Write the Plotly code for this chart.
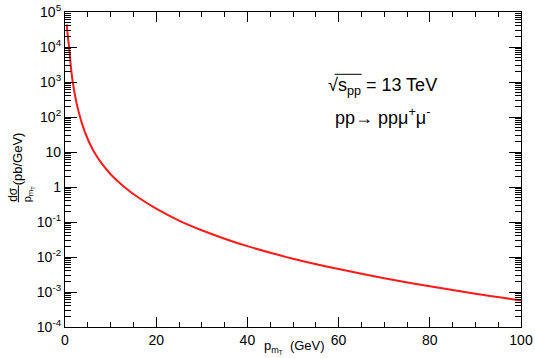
import plotly.graph_objects as go

# ---- data ----
pt = [0.4, 0.6, 0.9, 1.3, 1.7, 2.5, 3.3, 4.0, 5.0, 6.2, 8.0, 10.0, 13.0, 16.0, 20.0, 25.0,
      30.0, 35.0, 40.0, 50.0, 60.0, 70.0, 80.0, 90.0, 100.0]
xsec = [4.4e4, 2.1e4, 1.0e4, 2.66e3, 1.0e3, 2.62e2, 1.0e2, 50.5, 23.1, 11.1, 4.79, 2.32, 1.00,
        0.509, 0.241, 0.110, 0.058, 0.0333, 0.0204, 0.00894, 0.00451, 0.00247, 0.00145,
        0.000893, 0.000573]

y_tickvals = [1e-4, 1e-3, 1e-2, 1e-1, 1, 10, 1e2, 1e3, 1e4, 1e5]
y_ticktext = ["10<sup>-4</sup>", "10<sup>-3</sup>", "10<sup>-2</sup>", "10<sup>-1</sup>", "1", "10",
              "10<sup>2</sup>", "10<sup>3</sup>", "10<sup>4</sup>", "10<sup>5</sup>"]
x_tickvals = [0, 20, 40, 60, 80, 100]

FONT = "Liberation Sans, Arial, sans-serif"
W, H = 535, 358
X0, X1, Y0, Y1 = 65, 521.5, 11.7, 326.7  # plot area in window pixels


def px(x):
    return (x - X0) / (X1 - X0)


def py(y):
    return (Y1 - y) / (Y1 - Y0)


minor_y = [k * 10.0 ** n for n in range(-4, 5) for k in range(2, 10)]

fig = go.Figure()
fig.add_trace(go.Scatter(x=pt, y=xsec, mode="lines", line=dict(color="#ff1a1a", width=2, shape="spline"),
                         showlegend=False, hoverinfo="skip"))

fig.update_layout(
    width=W, height=H,
    margin=dict(l=X0, r=W - X1, t=Y0, b=H - Y1, pad=0, autoexpand=False),
    paper_bgcolor="white", plot_bgcolor="white",
    font=dict(family=FONT, size=14, color="black"),
    showlegend=False,
)
fig.update_xaxes(
    range=[0, 100], tickmode="array", tickvals=x_tickvals, ticks="inside", ticklen=10,
    tickwidth=1, tickcolor="black", showline=True, linecolor="black", linewidth=1.2,
    mirror="ticks", showgrid=False, zeroline=False, tickfont=dict(size=14), automargin=False,
    minor=dict(ticks="inside", ticklen=5, dtick=5, tick0=0, tickcolor="black", showgrid=False),
)
fig.update_yaxes(
    type="log", range=[-4, 5], tickmode="array", tickvals=y_tickvals, ticktext=y_ticktext,
    ticks="inside", ticklen=12, tickwidth=1, tickcolor="black", showline=True, linecolor="black",
    linewidth=1.2, mirror="ticks", showgrid=False, zeroline=False, tickfont=dict(size=14),
    automargin=False,
    minor=dict(ticks="inside", ticklen=6, tickmode="array", tickvals=minor_y, tickcolor="black",
               showgrid=False),
)


def note(x, y, text, size, angle=0):
    return dict(x=px(x), y=py(y), xref="paper", yref="paper", showarrow=False, textangle=angle,
                xanchor="center", yanchor="middle", text=text, font=dict(size=size))


ann = [
    note(295, 347, "p<sub>m<sub>T</sub></sub>  (GeV)", 13),
    note(13.5, 194, "dσ", 12, -90),
    note(28, 194, "p<sub>m<sub>T</sub></sub>", 11, -90),
    note(17.5, 158.5, "(pb/GeV)", 13, -90),
    note(383, 86, "√s<sub>pp</sub> = 13 TeV", 18),
    note(383, 116, "pp→ ppμ<sup>+</sup>μ<sup>-</sup>", 18),
]
fig.update_layout(annotations=ann)

shapes = [
    dict(type="line", xref="paper", yref="paper", x0=px(18.3), x1=px(18.3), y0=py(185), y1=py(202),
         line=dict(color="black", width=1)),
    dict(type="line", xref="paper", yref="paper", x0=px(335), x1=px(362), y0=py(74), y1=py(74),
         line=dict(color="black", width=1)),
]
fig.update_layout(shapes=shapes)

# remove the default 8px page margin so the figure fills the window exactly
fig.write_html("out.html", config={"displayModeBar": False},
               post_script="document.body.style.margin='0';")
